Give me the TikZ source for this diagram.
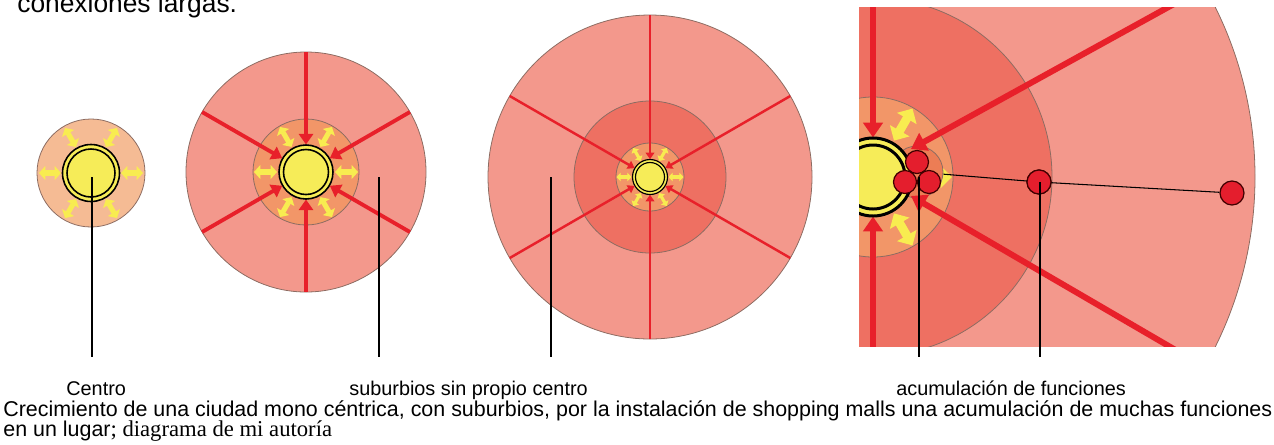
\documentclass[tikz,border=0pt]{standalone}
\usepackage{fontspec}
\setmainfont{Liberation Sans}
\newfontfamily\myserif{Liberation Serif}
\usetikzlibrary{arrows.meta,calc}
\definecolor{pinkout}{RGB}{243,152,140}
\definecolor{redmid}{RGB}{238,112,98}
\definecolor{orng}{RGB}{242,150,104}
\definecolor{peach}{RGB}{245,187,148}
\definecolor{yel}{RGB}{246,236,88}
\definecolor{yarr}{RGB}{248,236,80}
\definecolor{redarr}{RGB}{232,32,42}
\definecolor{edge}{RGB}{140,108,98}
\definecolor{dotred}{RGB}{228,30,45}
\definecolor{clbg}{RGB}{236,125,85}
\begin{document}
\begin{tikzpicture}[x=0.02cm,y=-0.02cm,
  disc/.style={draw=edge,line width=0.45pt},
  ring/.style={draw=black,line width=#1},
  ring/.default=0.9pt,
  yarA/.style={draw=yarr,line width=2.9pt,arrows={Triangle[width=7.8pt,length=3.6pt]-Triangle[width=7.8pt,length=3.6pt]}},
  yarC/.style={draw=yarr,line width=1.8pt,arrows={Triangle[width=4.8pt,length=2.4pt]-Triangle[width=4.8pt,length=2.4pt]}},
  yarD/.style={draw=yarr,line width=5pt,arrows={Triangle[width=12.5pt,length=6.5pt]-Triangle[width=12.5pt,length=6.5pt]}},
  rarB/.style={draw=redarr,line width=2.2pt,arrows={-Triangle[width=8pt,length=6pt]}},
  rarC/.style={draw=redarr,line width=1.4pt,arrows={-Triangle[width=5pt,length=3.8pt]}},
  rarD/.style={draw=redarr,line width=3.4pt,arrows={-Triangle[width=11pt,length=8.5pt]}},
  pointer/.style={draw=black,line width=1.4pt},
  dot/.style={circle,fill=dotred,draw=black!75!red,line width=0.7pt,inner sep=0pt,minimum size=#1},
  lbl/.style={inner sep=0pt,font=\fontsize{11.3}{13}\selectfont},
  capt/.style={inner sep=0pt,font=\fontsize{12.2}{14}\selectfont}
]
\useasboundingbox (0,0) rectangle (1274,444);

% clipped top text
\node[anchor=base west,inner sep=0pt,font=\fontsize{15}{18}\selectfont] (toptext) at (17,12) {conexiones largas.};

% ---------- city 1 ----------
\coordinate (c1) at (91,173);
\fill[peach,disc] (c1) circle (54);
\foreach \a in {0,60,...,300}
  \draw[yarA] ($(c1)+(\a:30)$) -- ($(c1)+(\a:52)$);
\fill[yel] (c1) circle (28.5);
\draw[ring] (c1) circle (28.5) (c1) circle (24);

% ---------- city 2 ----------
\coordinate (c2) at (306,172);
\fill[pinkout,disc] (c2) circle (120);
\fill[orng,disc] (c2) circle (53);
\foreach \a in {0,60,...,300}
  \draw[yarA] ($(c2)+(\a:29)$) -- ($(c2)+(\a:52)$);
\foreach \a in {30,90,...,330}
  \draw[rarB] ($(c2)+(\a:120)$) -- ($(c2)+(\a:27.5)$);
\fill[yel] (c2) circle (27);
\draw[ring] (c2) circle (27) (c2) circle (22.5);

% ---------- city 3 ----------
\coordinate (c3) at (650,177);
\fill[pinkout,disc] (c3) circle (162);
\fill[redmid,disc] (c3) circle (76);
\fill[orng,disc] (c3) circle (34);
\foreach \a in {0,60,...,300}
  \draw[yarC] ($(c3)+(\a:18.5)$) -- ($(c3)+(\a:33.5)$);
\foreach \a in {30,90,...,330}
  \draw[rarC] ($(c3)+(\a:162)$) -- ($(c3)+(\a:17.8)$);
\fill[yel] (c3) circle (17.5);
\draw[ring=0.65pt] (c3) circle (17.5) (c3) circle (14.5);

% ---------- city 4 (detail) ----------
\begin{scope}
\clip (859,7) rectangle (1262,346);
\coordinate (c4) at (873,177);
\fill[pinkout,disc] (c4) circle (382);
\fill[redmid,disc] (c4) circle (179);
\fill[orng,disc] (c4) circle (80);
\foreach \a in {0,60,...,300}
  \draw[yarD] ($(c4)+(\a:42)$) -- ($(c4)+(\a:79)$);
\node[circle,fill=clbg,draw=edge,line width=0.45pt,minimum size=52*0.02cm,inner sep=0pt] (cl) at (917,172) {};
\draw[rarD] ($(c4)+(90:382)$) -- ($(c4)+(90:39.5)$);
\draw[rarD] ($(c4)+(270:382)$) -- ($(c4)+(270:39.5)$);
\coordinate (a1s) at (1203,-12);
\coordinate (a1e) at (911,149);
\coordinate (a2s) at (1203,366);
\coordinate (a2e) at (911,196);
\draw[rarD] (a1s) -- (a1e);
\draw[rarD] (a2s) -- (a2e);
\fill[yel] (c4) circle (39);
\draw[ring=1.7pt] (c4) circle (39) (c4) circle (32);
\node[dot=24*0.02cm] (d2) at (1039,182) {};
\node[dot=24*0.02cm] (d3) at (1232,193) {};
\draw[black,line width=0.6pt] (cl) -- (d2.center) -- (d3);
\node[dot=23*0.02cm] (k1) at (917,162) {};
\node[dot=23*0.02cm] (k2) at (905,182) {};
\node[dot=23*0.02cm] (k3) at (929,182) {};
\node[dot=24*0.02cm] at (d2) {};
\end{scope}

% ---------- pointers ----------
\coordinate (p1a) at (92,177);  \coordinate (p1b) at (92,357);
\coordinate (p2a) at (379,177); \coordinate (p2b) at (379,357);
\coordinate (p3a) at (551,177); \coordinate (p3b) at (551,357);
\coordinate (p4a) at (919,177); \coordinate (p4b) at (919,357);
\coordinate (p5a) at (1040,182); \coordinate (p5b) at (1040,357);
\draw[pointer] (p1a) -- (p1b);
\draw[pointer] (p2a) -- (p2b);
\draw[pointer] (p3a) -- (p3b);
\draw[pointer] (p4a) -- (p4b);
\draw[pointer] (p5a) -- (p5b);

% ---------- labels ----------
\node[lbl,anchor=base west] (lcentro) at (66,395) {Centro};
\node[lbl,anchor=base west] (lsub) at (349,395) {suburbios sin propio centro};
\node[lbl,anchor=base west] (lacu) at (896,395) {acumulación de funciones};
\node[capt,anchor=base west] (line2) at (3,416) {Crecimiento de una ciudad mono céntrica, con suburbios, por la instalación de shopping malls una acumulación de muchas funciones};
\node[capt,anchor=base west] (line3) at (3,436) {en un lugar{\myserif\fontsize{12.9}{15}\selectfont; diagrama de mi autoría}};
\end{tikzpicture}
\end{document}
